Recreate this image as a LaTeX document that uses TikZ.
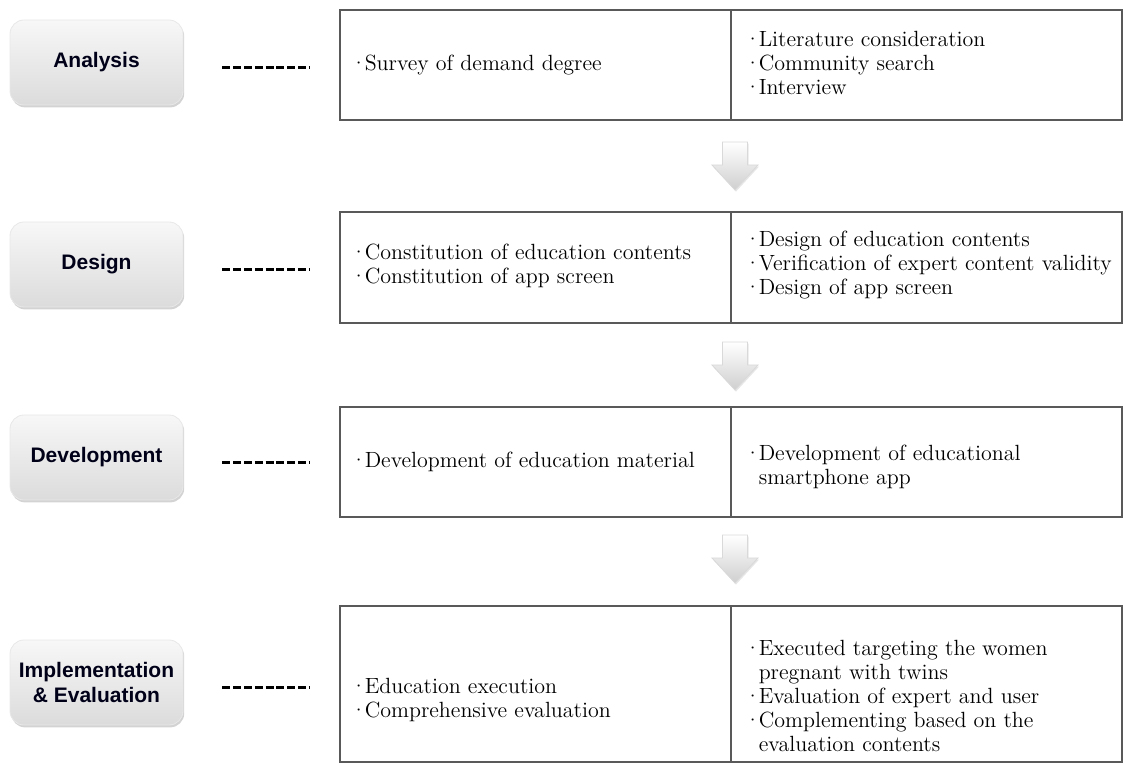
\documentclass[tikz,border=0pt]{standalone}
\usepackage{fontspec}
\newfontfamily\btnfont{Liberation Sans}
\usetikzlibrary{positioning,shadows}

\newcommand{\stagedot}{·\kern-1.2pt}

\tikzset{
	stagebtn/.style={rounded corners=7pt, minimum width=86.5pt, minimum height=42.5pt,
		top color=gray!6, bottom color=gray!28, draw=gray!18, line width=0.4pt,
		drop shadow={shadow xshift=0.6pt, shadow yshift=-1.2pt, opacity=0.35},
		font=\btnfont\bfseries\fontsize{10.5}{12.5}\selectfont, align=center, text=black!90!blue},
	rowbox/.style={draw=black!65, line width=0.6pt, minimum width=391pt, inner sep=0pt},
	celltext/.style={anchor=west, align=left, inner sep=0pt, font=\fontsize{11}{12}\selectfont},
	dashline/.style={line width=1.5pt, dash pattern=on 4pt off 1.4pt},
	blockarrow/.style={top color=white, bottom color=gray!38, draw=gray!30, line width=0.4pt,
		drop shadow={shadow xshift=0.5pt, shadow yshift=-0.8pt, opacity=0.2}},
}

\begin{document}
\begin{tikzpicture}[x=0.5pt,y=-0.5pt]

	\useasboundingbox (0,0) rectangle (1125,764);

	% ---- stage buttons

	\node[stagebtn] (an) at (96.5,62.5) {Analysis};
	\node[stagebtn] (de) at (96.5,264.5) {Design};
	\node[stagebtn] (dv) at (96.5,457.5) {Development};
	\node[stagebtn] (ie) at (96.5,682.5) {Implementation\\\& Evaluation};

	% ---- row boxes

	\node[rowbox, minimum height=55pt] (box1) at (731,65) {};
	\node[rowbox, minimum height=55.5pt] (box2) at (731,267.5) {};
	\node[rowbox, minimum height=55pt] (box3) at (731,462) {};
	\node[rowbox, minimum height=78pt] (box4) at (731,684) {};

	\foreach \b in {box1,box2,box3,box4} {
		\draw[draw=black!65, line width=0.6pt] (\b.north) -- (\b.south);
	}

	% ---- dashed links

	\draw[dashline] ([xshift=19.5pt,yshift=-2.5pt]an.east) -- ([xshift=-15pt,yshift=-2.5pt]an.east -| box1.west);
	\draw[dashline] ([xshift=19.5pt,yshift=-2.5pt]de.east) -- ([xshift=-15pt,yshift=-2.5pt]de.east -| box2.west);
	\draw[dashline] ([xshift=19.5pt,yshift=-2.5pt]dv.east) -- ([xshift=-15pt,yshift=-2.5pt]dv.east -| box3.west);
	\draw[dashline] ([xshift=19.5pt,yshift=-2.5pt]ie.east) -- ([xshift=-15pt,yshift=-2.5pt]ie.east -| box4.west);

	% ---- down arrows

	\foreach \t in {142,342,535} {
		\draw[blockarrow] (722.5,\t) -- (747.5,\t) -- (747.5,\t+23) -- (758,\t+23)
			-- (735,\t+48) -- (712,\t+23) -- (722.5,\t+23) -- cycle;
	}

	% ---- cell texts

	\node[celltext] (a1) at (350,65) {\stagedot Survey of demand degree};
	\node[celltext] (a2) at (744,63) {\stagedot Literature consideration\\\stagedot Community search\\\stagedot Interview};

	\node[celltext] (d1) at (350,266) {\stagedot Constitution of education contents\\\stagedot Constitution of app screen};
	\node[celltext] (d2) at (744,265) {\stagedot Design of education contents\\\stagedot Verification of expert content validity\\\stagedot Design of app screen};

	\node[celltext] (v1) at (350,462) {\stagedot Development of education material};
	\node[celltext] (v2) at (744,467) {\stagedot Development of educational\\\phantom{\stagedot}smartphone app};

	\node[celltext] (i1) at (350,700) {\stagedot Education execution\\\stagedot Comprehensive evaluation};
	\node[celltext] (i2) at (744,696) {\stagedot Executed targeting the women\\\phantom{\stagedot}pregnant with twins\\\stagedot Evaluation of expert and user\\\stagedot Complementing based on the\\\phantom{\stagedot}evaluation contents};

\end{tikzpicture}
\end{document}
